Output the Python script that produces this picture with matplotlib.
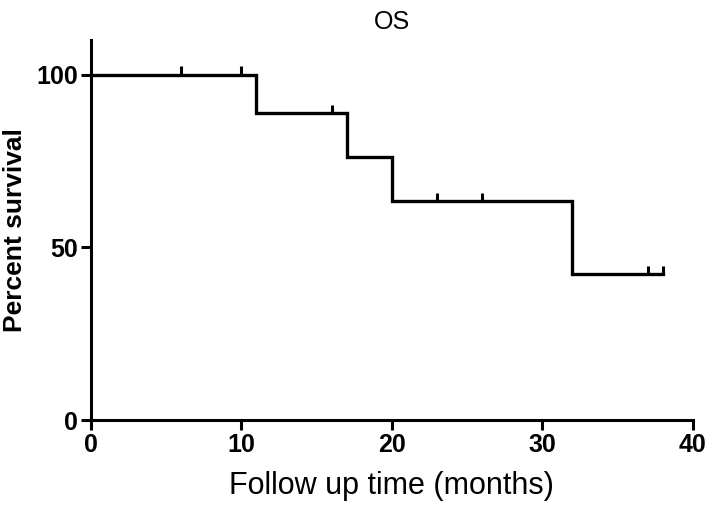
import numpy as np
import matplotlib.pyplot as plt

plt.rcParams["font.family"] = ["Liberation Sans", "DejaVu Sans"]

# --- Kaplan-Meier steps ---
event_times = [0, 11, 17, 20, 32, 38]
survival = [100, 88.9, 76.2, 63.5, 42.3, 42.3]
censor_times = [6, 10, 16, 23, 26, 37, 38]
censor_surv = [100, 100, 88.9, 63.5, 63.5, 42.3, 42.3]

x_ticks = [0, 10, 20, 30, 40]
y_ticks = [0, 50, 100]

fig = plt.figure(figsize=(7.09, 5.15), dpi=100)
ax = fig.add_axes([0.128, 0.184, 0.849, 0.738])

ax.step(event_times, survival, where="post", color="black", linewidth=2.4,
        solid_joinstyle="miter")
ax.vlines(censor_times, censor_surv, np.array(censor_surv) + 2.4,
          color="black", linewidth=2.2)

ax.set_xlim(0, 40)
ax.set_ylim(0, 110)
ax.set_xticks(x_ticks)
ax.set_yticks(y_ticks)
for side in ("top", "right"):
    ax.spines[side].set_visible(False)
for side in ("left", "bottom"):
    ax.spines[side].set_linewidth(2.2)
ax.tick_params(axis="both", direction="out", length=7, width=2.2,
               labelsize=18, pad=2)
for lab in ax.get_xticklabels() + ax.get_yticklabels():
    lab.set_fontweight("bold")

ax.set_title("OS", fontsize=18, pad=8)
ax.set_xlabel("Follow up time (months)", fontsize=22, labelpad=10)
ax.set_ylabel("Percent survival", fontsize=19, fontweight="bold", labelpad=7)

fig.savefig("out.png", dpi=100)
